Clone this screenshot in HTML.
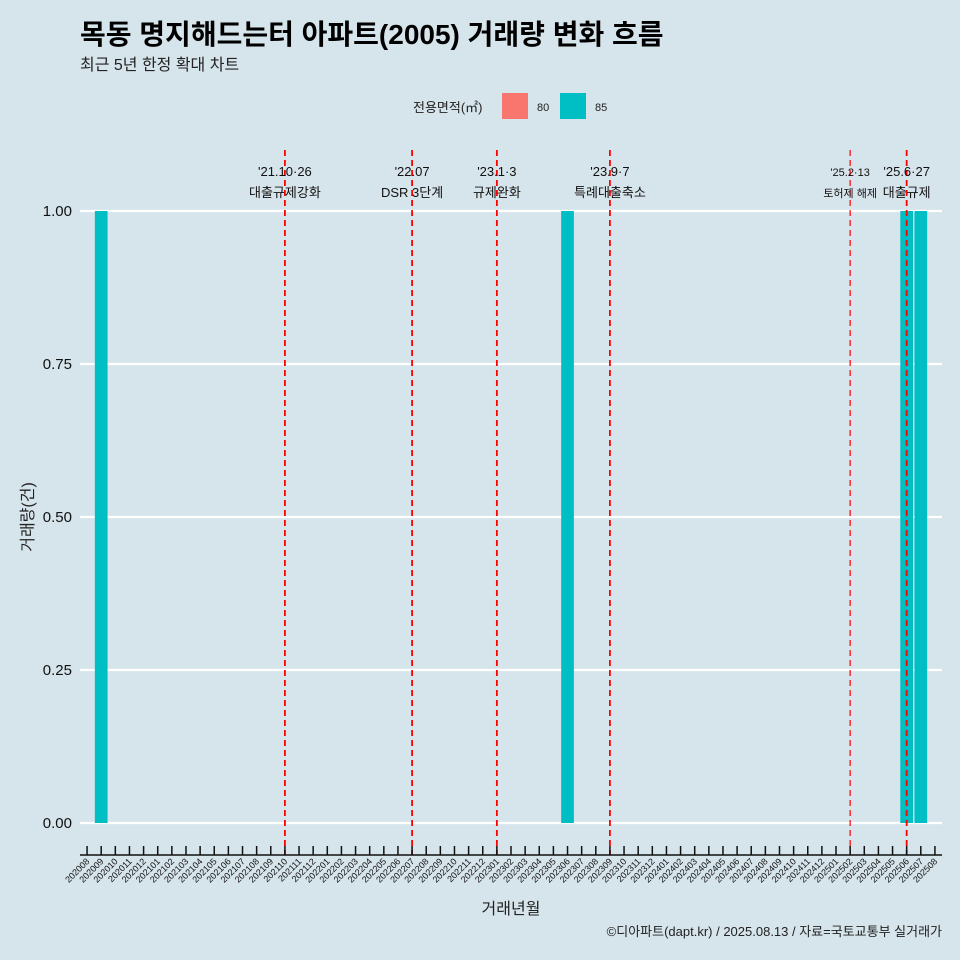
<!DOCTYPE html>
<html><head><meta charset="utf-8"><style>
html,body{margin:0;padding:0;background:#d6e4eb;}
svg{display:block;font-family:"Liberation Sans","Noto Sans CJK KR",sans-serif;}
</style></head><body>
<svg id="chart" width="960" height="960">
<rect width="960" height="960" fill="#d6e4eb"/>
<text x="80" y="44" font-size="28" font-weight="bold" fill="#000">목동 명지해드는터 아파트(2005) 거래량 변화 흐름</text>
<text x="80" y="70" font-size="16" fill="#222">최근 5년 한정 확대 차트</text>
<g>
<text x="413" y="112" font-size="13" fill="#222">전용면적(㎡)</text>
<rect x="502" y="93" width="26" height="26" fill="#f8766d"/>
<text x="537" y="111" font-size="11" fill="#222">80</text>
<rect x="560" y="93" width="26" height="26" fill="#00bfc4"/>
<text x="595" y="111" font-size="11" fill="#222">85</text>
</g>
<g id="grid"></g><g id="bars"></g><g id="events"></g><g id="xaxis"></g><g id="yaxis"></g>
<text x="511" y="914" font-size="16" text-anchor="middle" fill="#222">거래년월</text>
<text transform="translate(33,517) rotate(-90)" font-size="16" text-anchor="middle" fill="#222">거래량(건)</text>
<text x="942" y="936" font-size="13" text-anchor="end" fill="#222">©디아파트(dapt.kr) / 2025.08.13 / 자료=국토교통부 실거래가</text>
</svg>
<script>
const categories=[];for(let y=2020,m=8;!(y===2025&&m>8);){categories.push(''+y+(m<10?'0':'')+m);m++;if(m>12){m=1;y++;}}
const barMonths=['202009','202306','202506','202507'];
const barValues=[1,1,1,1];
const barSeries=['85','85','85','85'];
const yTicks=[0,0.25,0.5,0.75,1.0];
const yTickLabels=['0.00','0.25','0.50','0.75','1.00'];
const eventMonths=['202110','202207','202301','202309','202502','202506'];
const eventLine1=["'21.10·26","'22.07","'23.1·3","'23.9·7","'25.2·13","'25.6·27"];
const eventLine2=["대출규제강화","DSR 3단계","규제완화","특례대출축소","토허제 해제","대출규제"];
const NS='http://www.w3.org/2000/svg';
const X0=80,X1=942,Y0=823,Y1=211;
const step=(X1-X0)/categories.length;
const xc=c=>X0+(categories.indexOf(c)+0.5)*step;
const ys=v=>Y0-(Y0-Y1)*v;
function mk(tag,attrs,parent){const e=document.createElementNS(NS,tag);for(const k in attrs)e.setAttribute(k,attrs[k]);parent.appendChild(e);return e;}
const grid=document.getElementById('grid'),yax=document.getElementById('yaxis');
yTicks.forEach((v,i)=>{
 const l=mk('line',{x1:X0,x2:X1,y1:ys(v),y2:ys(v),stroke:'#fff','stroke-width':2.2},grid);
 
 
 const t=mk('text',{x:72,y:ys(v)+5,'font-size':15,'text-anchor':'end',fill:'#111'},yax);
 t.textContent=yTickLabels[i];
 
 
});
const bars=document.getElementById('bars');
barMonths.forEach((c,i)=>{
 const r=mk('rect',{x:xc(c)-step*0.45,width:step*0.9,y:ys(barValues[i]),height:Y0-ys(barValues[i]),fill:barSeries[i]==='80'?'#f8766d':'#00bfc4'},bars);
 
 
});
const ev=document.getElementById('events');
eventMonths.forEach((c,i)=>{
 const x=xc(c),thin=c==='202502';
 const l=mk('line',{x1:x,x2:x,y1:150,y2:855,stroke:'#ff0000','stroke-width':thin?1.2:1.8,'stroke-dasharray':'6,4'},ev);
 
 
 const fs=thin?11:13;
 const t1=mk('text',{x:x,y:176,'font-size':fs,'text-anchor':'middle',fill:'#111'},ev);t1.textContent=eventLine1[i];
 
 
 const t2=mk('text',{x:x,y:197,'font-size':fs,'text-anchor':'middle',fill:'#111'},ev);t2.textContent=eventLine2[i];
 
 
});
const xax=document.getElementById('xaxis');
const al=mk('line',{x1:X0,x2:X1,y1:855,y2:855,stroke:'#111','stroke-width':1.5},xax);


categories.forEach(c=>{
 const x=xc(c);
 const tk=mk('line',{x1:x,x2:x,y1:846,y2:855,stroke:'#111','stroke-width':1.5},xax);
 
 
 const t=mk('text',{transform:`translate(${x+3},${862}) rotate(-45)`,'font-size':9,'text-anchor':'end',fill:'#111'},xax);
 t.textContent=c;
 
 
});
</script>
</body></html>
